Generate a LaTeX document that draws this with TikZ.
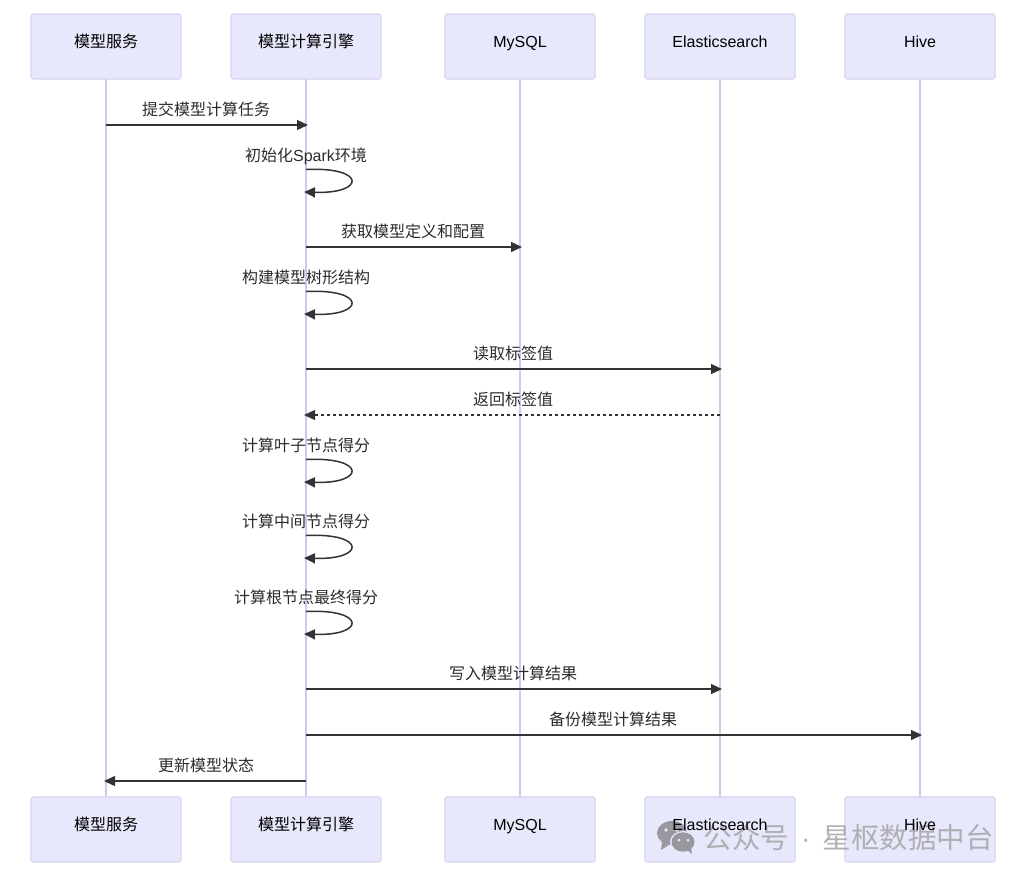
\documentclass[tikz,border=0pt]{standalone}
\usepackage{fontspec}
\setmainfont{Liberation Sans}
\newfontfamily\cjk{Noto Sans CJK SC}
\usetikzlibrary{arrows.meta}
\tikzset{
  x=1pt,y=-1pt,
  actor/.style={draw=boxline,fill=boxfill,line width=1.2pt,rounded corners=2.5pt,minimum width=150pt,minimum height=65pt,inner sep=0pt,outer sep=0pt},
  actorlabel/.style={font=\fontsize{16}{18}\selectfont,text=black,inner sep=0pt,anchor=base},
  lifeline/.style={draw=lifeln,line width=1.6pt},
  msg/.style={draw=msgc,line width=1.25pt,-{Triangle[length=11pt,width=10pt,fill=msgc]}},
  msgdash/.style={msg,dash pattern=on 3pt off 3pt},
  msgloop/.style={msg,line width=1.5pt},
  msgtext/.style={font=\fontsize{16}{18}\selectfont,text=msgt,inner sep=0pt,anchor=base},
  wmtext/.style={font=\fontsize{28.5}{30}\selectfont,text=wm,inner sep=0pt,anchor=base west,opacity=.9},
}
\definecolor{boxfill}{HTML}{E8E8FC}
\definecolor{boxline}{HTML}{D9D4F4}
\definecolor{lifeln}{HTML}{D0C8EE}
\definecolor{msgc}{HTML}{333333}
\definecolor{msgt}{HTML}{2B2B2B}
\definecolor{wm}{HTML}{A8A8AC}
\definecolor{wmicon}{HTML}{98989E}
\begin{document}
\begin{tikzpicture}
\useasboundingbox (0,0) rectangle (1027,879);
% actor boxes
\node[actor] (a1) at (106,46.5) {};
\node[actor] (a2) at (306,46.5) {};
\node[actor] (a3) at (520,46.5) {};
\node[actor] (a4) at (720,46.5) {};
\node[actor] (a5) at (920,46.5) {};
\node[actor] (b1) at (106,829.5) {};
\node[actor] (b2) at (306,829.5) {};
\node[actor] (b3) at (520,829.5) {};
\node[actor] (b4) at (720,829.5) {};
\node[actor] (b5) at (920,829.5) {};
% lifelines
\draw[lifeline] (a1.south) -- (b1.north);
\draw[lifeline] (a2.south) -- (b2.north);
\draw[lifeline] (a3.south) -- (b3.north);
\draw[lifeline] (a4.south) -- (b4.north);
\draw[lifeline] (a5.south) -- (b5.north);
% actor labels
\node[actorlabel] (t1) at (106,47) {\cjk 模型服务};
\node[actorlabel] (t2) at (306,47) {\cjk 模型计算引擎};
\node[actorlabel] (t3) at (520,47) {MySQL};
\node[actorlabel] (t4) at (720,47) {Elasticsearch};
\node[actorlabel] (t5) at (920,47) {Hive};
\node[actorlabel] (u1) at (106,830) {\cjk 模型服务};
\node[actorlabel] (u2) at (306,830) {\cjk 模型计算引擎};
\node[actorlabel] (u3) at (520,830) {MySQL};
% message end points, on the lifelines
\coordinate (m1a) at (a1.south |- 0,125);   \coordinate (m1b) at (308,125);
\coordinate (s1a) at (a2.south |- 0,169.5); \coordinate (s1b) at (304,192);
\coordinate (m2a) at (a2.south |- 0,247);   \coordinate (m2b) at (522,247);
\coordinate (s2a) at (a2.south |- 0,291.5); \coordinate (s2b) at (304,314);
\coordinate (m3a) at (a2.south |- 0,369);   \coordinate (m3b) at (722,369);
\coordinate (m4a) at (a4.south |- 0,415);   \coordinate (m4b) at (304,415);
\coordinate (s3a) at (a2.south |- 0,459.5); \coordinate (s3b) at (304,482);
\coordinate (s4a) at (a2.south |- 0,535.5); \coordinate (s4b) at (304,558);
\coordinate (s5a) at (a2.south |- 0,611.5); \coordinate (s5b) at (304,634);
\coordinate (m5a) at (a2.south |- 0,689);   \coordinate (m5b) at (722,689);
\coordinate (m6a) at (a2.south |- 0,735);   \coordinate (m6b) at (922,735);
\coordinate (m7a) at (a2.south |- 0,781);   \coordinate (m7b) at (104,781);
% messages
\draw[msg] (m1a) -- (m1b);
\draw[msg] (m2a) -- (m2b);
\draw[msg] (m3a) -- (m3b);
\draw[msgdash] (m4a) -- (m4b);
\draw[msg] (m5a) -- (m5b);
\draw[msg] (m6a) -- (m6b);
\draw[msg] (m7a) -- (m7b);
\foreach \s in {1,...,5}{
  \draw[msgloop] (s\s a) .. controls +(60,-3) and +(62,2) .. (s\s b);
}
% message labels
\node[msgtext] (l1) at (206,115) {\cjk 提交模型计算任务};
\node[msgtext] (l2) at (306,161) {{\cjk 初始化}Spark{\cjk 环境}};
\node[msgtext] (l3) at (413,237) {\cjk 获取模型定义和配置};
\node[msgtext] (l4) at (306,283) {\cjk 构建模型树形结构};
\node[msgtext] (l5) at (513,359) {\cjk 读取标签值};
\node[msgtext] (l6) at (513,405) {\cjk 返回标签值};
\node[msgtext] (l7) at (306,451) {\cjk 计算叶子节点得分};
\node[msgtext] (l8) at (306,527) {\cjk 计算中间节点得分};
\node[msgtext] (l9) at (306,603) {\cjk 计算根节点最终得分};
\node[msgtext] (l10) at (513,679) {\cjk 写入模型计算结果};
\node[msgtext] (l11) at (613,725) {\cjk 备份模型计算结果};
\node[msgtext] (l12) at (206,771) {\cjk 更新模型状态};
% watermark
\fill[wmicon] (672,833) ellipse (15pt and 12pt);
\fill[wmicon] (662,842) -- (661,850) -- (669,845) -- cycle;
\fill[boxfill] (683,842) ellipse (13pt and 11pt);
\fill[wmicon] (683,842) ellipse (11.5pt and 9.7pt);
\fill[wmicon] (687,850) -- (692,854) -- (691,848) -- cycle;
\fill[boxfill] (666,830) circle (1.8pt);
\fill[boxfill] (677,830) circle (1.8pt);
\fill[boxfill] (679,840) circle (1.5pt);
\fill[boxfill] (688,840) circle (1.5pt);
\node[wmtext] (w) at (703.5,848) {{\cjk 公众号}\hspace{12pt}·\hspace{12pt}{\cjk 星枢数据中台}};
% labels that lie over the watermark
\node[actorlabel] (u4) at (720,830) {Elasticsearch};
\node[actorlabel] (u5) at (920,830) {Hive};
\end{tikzpicture}
\end{document}
